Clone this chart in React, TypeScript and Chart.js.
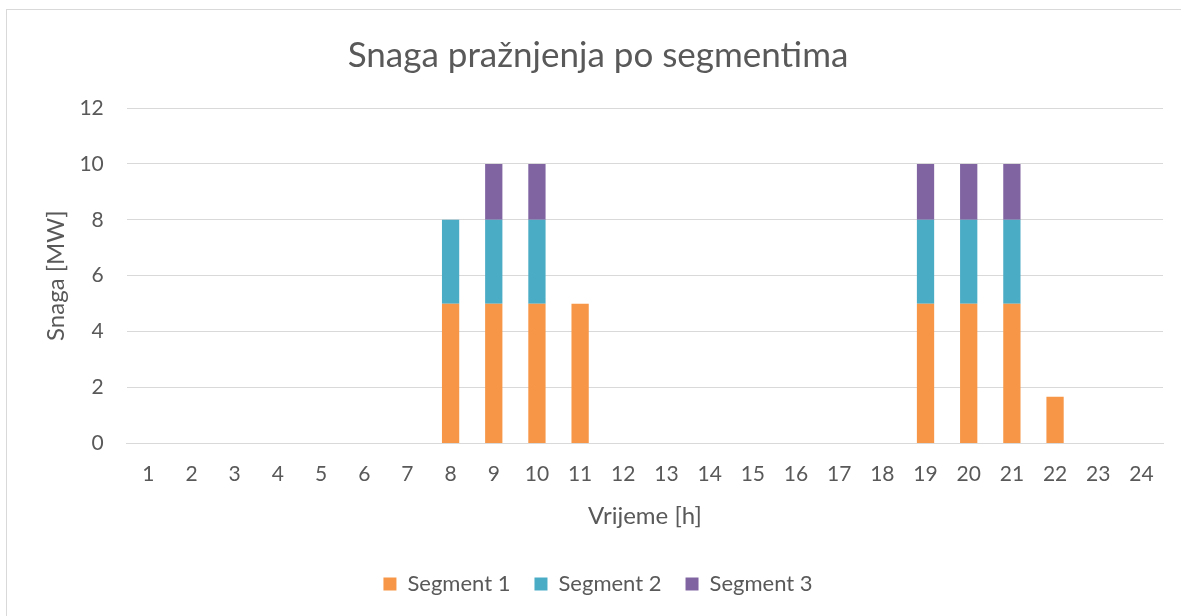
import React, { useEffect, useRef } from "react";
import { Chart, registerables } from "chart.js";

Chart.register(...registerables);

const hours: string[] = Array.from({ length: 24 }, (_, i) => String(i + 1));
const segment1: number[] = [0, 0, 0, 0, 0, 0, 0, 5, 5, 5, 5, 0, 0, 0, 0, 0, 0, 0, 5, 5, 5, 1.67, 0, 0];
const segment2: number[] = [0, 0, 0, 0, 0, 0, 0, 3, 3, 3, 0, 0, 0, 0, 0, 0, 0, 0, 3, 3, 3, 0, 0, 0];
const segment3: number[] = [0, 0, 0, 0, 0, 0, 0, 0, 2, 2, 0, 0, 0, 0, 0, 0, 0, 0, 2, 2, 2, 0, 0, 0];

const FONT = "Lato, 'Open Sans', sans-serif";
const TEXT = "#595959";

export default function App() {
  const ref = useRef<HTMLCanvasElement | null>(null);
  useEffect(() => {
    if (!ref.current) return;
    const chart = new Chart(ref.current, {
      type: "bar",
      data: {
        labels: hours,
        datasets: [
          { label: "Segment 1", data: segment1, backgroundColor: "#F79646", barPercentage: 0.4, categoryPercentage: 1 },
          { label: "Segment 2", data: segment2, backgroundColor: "#4BACC6", barPercentage: 0.4, categoryPercentage: 1 },
          { label: "Segment 3", data: segment3, backgroundColor: "#8064A2", barPercentage: 0.4, categoryPercentage: 1 },
        ],
      },
      options: {
        animation: false,
        responsive: false,
        maintainAspectRatio: false,
        layout: { padding: { left: 33, right: 18, top: 30, bottom: 11 } },
        plugins: {
          title: {
            display: true,
            text: "Snaga pražnjenja po segmentima",
            color: TEXT,
            font: { family: FONT, size: 35, weight: "normal" },
            padding: { top: 5, bottom: 31 },
          },
          legend: {
            position: "bottom",
            labels: {
              color: TEXT,
              font: { family: FONT, size: 22 },
              boxWidth: 13,
              boxHeight: 13,
              padding: 24,
            },
          },
          tooltip: { enabled: false },
        },
        scales: {
          x: {
            stacked: true,
            grid: { display: false, drawTicks: false },
            border: { color: "#d9d9d9" },
            ticks: { color: TEXT, font: { family: FONT, size: 21 }, padding: 18, maxRotation: 0 },
            title: {
              display: true,
              text: "Vrijeme [h]",
              color: TEXT,
              font: { family: FONT, size: 24 },
              padding: { top: -3, bottom: 18.6 },
            },
          },
          y: {
            stacked: true,
            min: 0,
            max: 12,
            grid: { color: "#d9d9d9", drawTicks: false },
            border: { display: false },
            ticks: { stepSize: 2, color: TEXT, font: { family: FONT, size: 21 }, padding: 23 },
            title: {
              display: true,
              text: "Snaga [MW]",
              color: TEXT,
              font: { family: FONT, size: 24 },
              padding: { top: 8.6, bottom: -14 },
            },
          },
        },
      },
    });
    return () => chart.destroy();
  }, []);
  return (
    <div style={{ position: "fixed", left: 0, top: 0, width: 1181, height: 616, background: "#fff", overflow: "hidden" }}>
      <div style={{ position: "absolute", left: 6, top: 9, width: 1190, height: 620, border: "1px solid #d9d9d9", boxSizing: "border-box" }} />
      <canvas ref={ref} width={1181} height={616} style={{ position: "absolute", left: 0, top: 0 }} />
    </div>
  );
}
